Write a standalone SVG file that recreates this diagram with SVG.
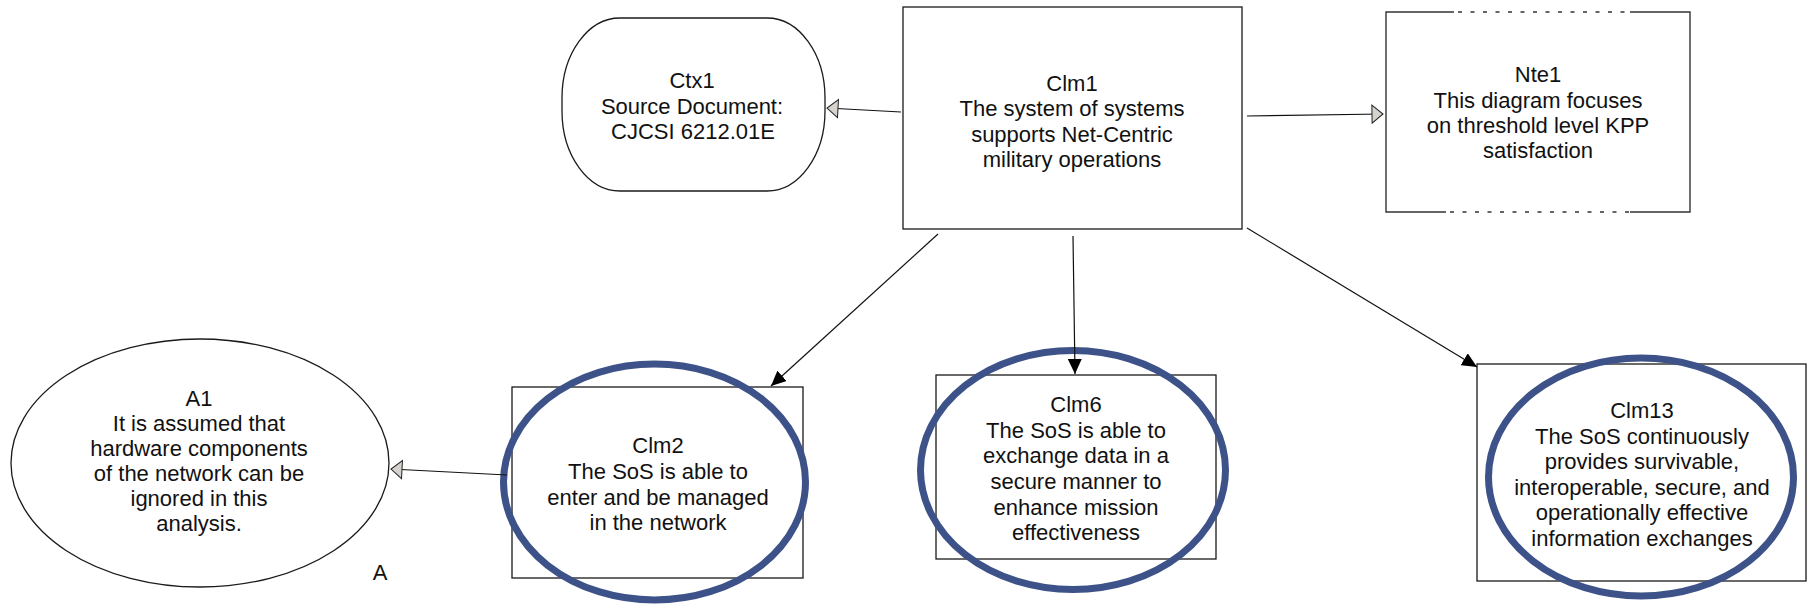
<svg xmlns="http://www.w3.org/2000/svg" width="1812" height="607" viewBox="0 0 1812 607">
  <style>
    .box { fill: #ffffff; stroke: #1a1a1a; stroke-width: 1.3; }
    .ring { fill: none; stroke: #3D5288; stroke-width: 7; }
    .lbl { font-family: "Liberation Sans", Arial, sans-serif; font-size: 22px; fill: #111111; text-anchor: middle; }
    .conn { stroke: #111111; stroke-width: 1.2; fill: none; }
    .note { fill: none; stroke: #333333; stroke-width: 1.4; }
  </style>
  <defs>
    <marker id="hollow" viewBox="0 0 11 18" refX="11" refY="9" markerWidth="11" markerHeight="18" markerUnits="userSpaceOnUse" orient="auto" overflow="visible">
      <path d="M0,0 L11,9 L0,18 Z" fill="#D6D3CC" stroke="#222222" stroke-width="1"/>
    </marker>
    <marker id="solid" viewBox="0 0 15 14" refX="15" refY="7" markerWidth="15" markerHeight="14" markerUnits="userSpaceOnUse" orient="auto">
      <path d="M0,0 L15,7 L0,14 Z" fill="#000000"/>
    </marker>
  </defs>
  <rect width="1812" height="607" fill="#ffffff"/>

  <g id="Ctx1">
    <rect class="box" x="562" y="18" width="263" height="173" rx="58" ry="80"/>
    <text class="lbl" x="692" y="88">Ctx1</text>
    <text class="lbl" x="692" y="114">Source Document:</text>
    <text class="lbl" x="693" y="139">CJCSI 6212.01E</text>
  </g>

  <g id="Clm1">
    <rect class="box" x="903" y="7" width="339" height="222"/>
    <text class="lbl" x="1072" y="91">Clm1</text>
    <text class="lbl" x="1072" y="116">The system of systems</text>
    <text class="lbl" x="1072" y="142">supports Net-Centric</text>
    <text class="lbl" x="1072" y="167">military operations</text>
  </g>

  <g id="Nte1">
    <rect x="1386" y="12" width="304" height="200" fill="#ffffff" stroke="none"/>
    <path class="note" d="M1454,12 H1386 V212 H1446 M1630,12 H1690 V212 H1630"/>
    <path class="note" stroke-dasharray="4 8.5" d="M1458,12 H1630 M1450,212 H1630"/>
    <text class="lbl" x="1538" y="82">Nte1</text>
    <text class="lbl" x="1538" y="108">This diagram focuses</text>
    <text class="lbl" x="1538" y="133">on threshold level KPP</text>
    <text class="lbl" x="1538" y="158">satisfaction</text>
  </g>

  <g id="A1">
    <ellipse class="box" cx="200" cy="463" rx="189" ry="124"/>
    <text class="lbl" x="199" y="406">A1</text>
    <text class="lbl" x="199" y="431">It is assumed that</text>
    <text class="lbl" x="199" y="456">hardware components</text>
    <text class="lbl" x="199" y="481">of the network can be</text>
    <text class="lbl" x="199" y="506">ignored in this</text>
    <text class="lbl" x="199" y="531">analysis.</text>
  </g>

  <g id="A-label">
    <text class="lbl" x="380" y="580">A</text>
  </g>

  <g id="Clm2">
    <rect class="box" x="512" y="387" width="291" height="191"/>
    <text class="lbl" x="658" y="453">Clm2</text>
    <text class="lbl" x="658" y="479">The SoS is able to</text>
    <text class="lbl" x="658" y="505">enter and be managed</text>
    <text class="lbl" x="658" y="530">in the network</text>
    <ellipse class="ring" cx="654.5" cy="482" rx="151" ry="118"/>
  </g>

  <g id="Clm6">
    <rect class="box" x="936" y="375" width="280" height="184"/>
    <text class="lbl" x="1076" y="412">Clm6</text>
    <text class="lbl" x="1076" y="438">The SoS is able to</text>
    <text class="lbl" x="1076" y="463">exchange data in a</text>
    <text class="lbl" x="1076" y="489">secure manner to</text>
    <text class="lbl" x="1076" y="515">enhance mission</text>
    <text class="lbl" x="1076" y="540">effectiveness</text>
    <ellipse class="ring" cx="1073" cy="470" rx="152.5" ry="119.5"/>
  </g>

  <g id="Clm13">
    <rect class="box" x="1477" y="364" width="329" height="217"/>
    <text class="lbl" x="1642" y="418">Clm13</text>
    <text class="lbl" x="1642" y="444">The SoS continuously</text>
    <text class="lbl" x="1642" y="469">provides survivable,</text>
    <text class="lbl" x="1642" y="495">interoperable, secure, and</text>
    <text class="lbl" x="1642" y="520">operationally effective</text>
    <text class="lbl" x="1642" y="546">information exchanges</text>
    <ellipse class="ring" cx="1641" cy="477" rx="152.5" ry="119"/>
  </g>

  <g id="connectors">
    <line class="conn" x1="901" y1="112" x2="827" y2="108" marker-end="url(#hollow)"/>
    <line class="conn" x1="1247" y1="116" x2="1383" y2="114" marker-end="url(#hollow)"/>
    <line class="conn" x1="938" y1="234" x2="771" y2="386" marker-end="url(#solid)"/>
    <line class="conn" x1="1073" y1="236" x2="1075" y2="374" marker-end="url(#solid)"/>
    <line class="conn" x1="1247" y1="228" x2="1477" y2="367" marker-end="url(#solid)"/>
    <line class="conn" x1="507" y1="475" x2="391" y2="469" marker-end="url(#hollow)"/>
  </g>
</svg>
